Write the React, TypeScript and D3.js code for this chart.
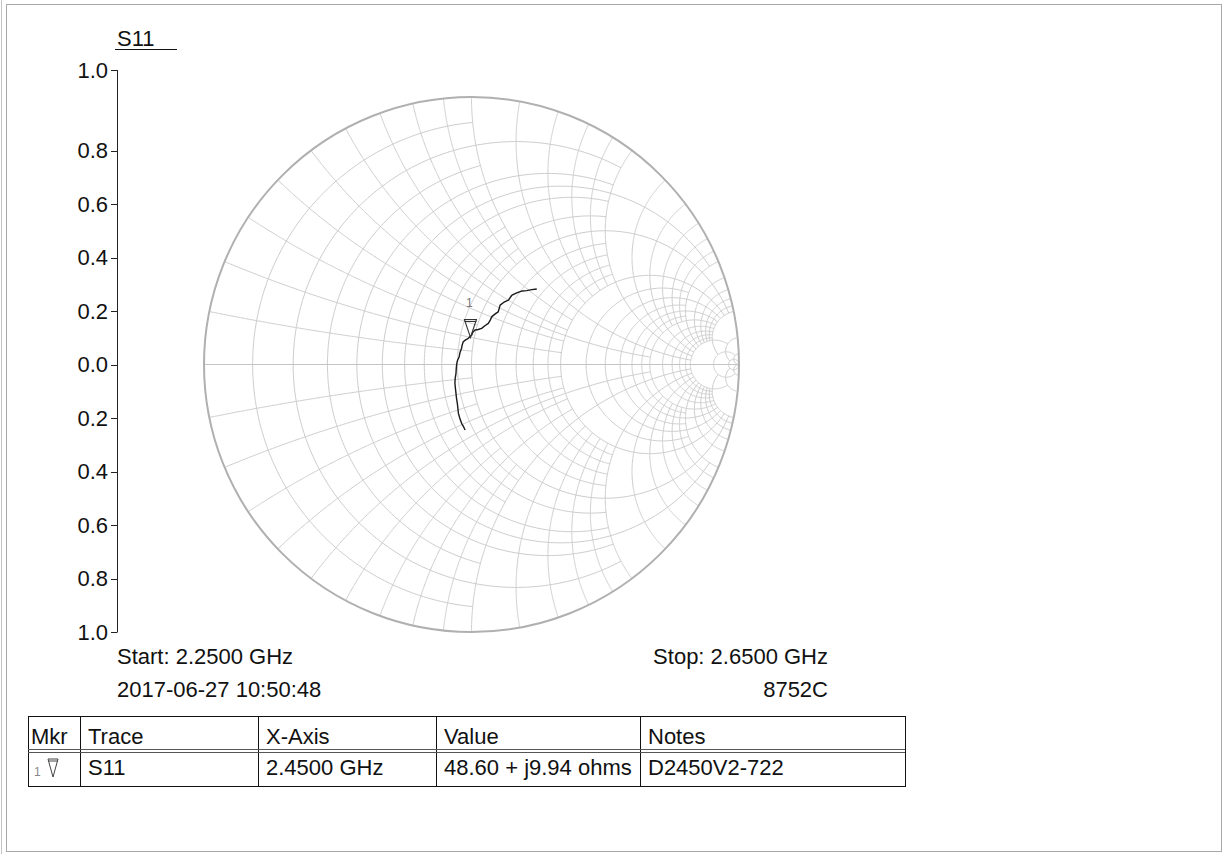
import React from 'react';
import * as d3 from 'd3';

// ---------- data ----------
const yTickValues = [1.0, 0.8, 0.6, 0.4, 0.2, 0.0, -0.2, -0.4, -0.6, -0.8, -1.0];
const yTickLabels = ['1.0', '0.8', '0.6', '0.4', '0.2', '0.0', '0.2', '0.4', '0.6', '0.8', '1.0'];

// constant-resistance circles and the |x| up to which each is drawn
const rGridValues = [0.1, 0.2, 0.3, 0.4, 0.5, 0.6, 0.7, 0.8, 0.9, 1.0, 1.2, 1.4, 1.6, 1.8, 2.0, 2.5, 3, 3.5, 4, 4.5, 5, 6, 7, 8, 9, 10, 20, 50];
const rGridLimits = [1, 2, 1, 2, 5, 2, 1, 2, 1, 10, 2, 2, 2, 2, 10, 5, 10, 5, 10, 5, 10, 10, 10, 10, 10, 20, 50, Infinity];
// constant-reactance arcs and the r up to which each is drawn
const xGridValues = [0.1, 0.2, 0.3, 0.4, 0.5, 0.6, 0.7, 0.8, 0.9, 1.0, 1.2, 1.4, 1.6, 1.8, 2.0, 2.5, 3, 3.5, 4, 4.5, 5, 6, 7, 8, 9, 10, 20, 50];
const xGridLimits = [1, 2, 1, 2, 5, 2, 1, 2, 1, 10, 2, 2, 2, 2, 10, 5, 10, 5, 10, 5, 10, 10, 10, 10, 10, 20, 50, Infinity];

const traceRe = [0.244, 0.225, 0.206, 0.190, 0.169, 0.150, 0.138, 0.120, 0.107, 0.100, 0.090, 0.076, 0.070, 0.063, 0.050, 0.038, 0.025, 0.013, 0.005, 0.001, -0.006, -0.012, -0.022, -0.031, -0.035, -0.037, -0.043, -0.046, -0.052, -0.055, -0.057, -0.058, -0.061, -0.062, -0.060, -0.058, -0.056, -0.053, -0.051, -0.049, -0.044, -0.037, -0.030, -0.024];
const traceIm = [0.282, 0.280, 0.276, 0.275, 0.268, 0.258, 0.241, 0.232, 0.222, 0.197, 0.190, 0.179, 0.166, 0.154, 0.145, 0.135, 0.131, 0.129, 0.121, 0.110, 0.104, 0.098, 0.092, 0.085, 0.072, 0.061, 0.045, 0.029, 0.016, 0.004, -0.015, -0.033, -0.052, -0.070, -0.090, -0.108, -0.127, -0.145, -0.163, -0.182, -0.200, -0.220, -0.232, -0.245];

const z0 = 50;
const markerLabel = '1';
const markerResistance = 48.60;
const markerReactance = 9.94;

const titleText = 'S11';
const startText = 'Start: 2.2500 GHz';
const stopText = 'Stop: 2.6500 GHz';
const dateText = '2017-06-27 10:50:48';
const modelText = '8752C';

const tableHeaders = ['Mkr', 'Trace', 'X-Axis', 'Value', 'Notes'];
const tableRow = ['S11', '2.4500 GHz', '48.60 + j9.94 ohms', 'D2450V2-722'];

// ---------- layout ----------
const W = 1228, H = 854;
const cx = 471.5, cy = 364.5, R = 267.5;
const axisX = 117, axisTop = 70;
const FONT = '"Liberation Sans", Arial, Helvetica, sans-serif';
const FS = 22;
const colX = [28, 80, 258, 436, 640, 905];
const tableTop = 716, headerBottom = 749, tableBottom = 786;

const sx = d3.scaleLinear().domain([-1, 1]).range([cx - R, cx + R]);
const sy = d3.scaleLinear().domain([-1, 1]).range([cy + R, cy - R]);

function gamma(r: number, x: number): [number, number] {
  const d = (r + 1) * (r + 1) + x * x;
  return [(r * r + x * x - 1) / d, (2 * x) / d];
}

const line = d3.line<[number, number]>().x(d => sx(d[0])).y(d => sy(d[1]));

function rCirclePath(r: number, lim: number): string {
  const phiMax = lim === Infinity ? Math.PI / 2 * 0.9999 : Math.atan(lim / (r + 1));
  const n = 240;
  const pts: [number, number][] = [];
  for (let i = 0; i <= n; i++) {
    const phi = -phiMax + (2 * phiMax * i) / n;
    pts.push(gamma(r, (r + 1) * Math.tan(phi)));
  }
  return line(pts) || '';
}

function xArcPath(x: number, lim: number): string {
  const uMax = lim === Infinity ? 0.9999 : lim / (lim + 1);
  const n = 200;
  const pts: [number, number][] = [];
  for (let i = 0; i <= n; i++) {
    const u = (uMax * i) / n;
    pts.push(gamma(u / (1 - u), x));
  }
  return line(pts) || '';
}

export default function App() {
  const gridPaths: string[] = [];
  rGridValues.forEach((r, i) => gridPaths.push(rCirclePath(r, rGridLimits[i])));
  xGridValues.forEach((x, i) => {
    gridPaths.push(xArcPath(x, xGridLimits[i]));
    gridPaths.push(xArcPath(-x, xGridLimits[i]));
  });

  const tracePts: [number, number][] = traceRe.map((v, i) => [v, traceIm[i]]);
  const mk = gamma(markerResistance / z0, markerReactance / z0);
  const mx = sx(mk[0]), my = sy(mk[1]);

  const tickY = (v: number, i: number) => (i === 0 ? axisTop : sy(v));

  return (
    <svg width={W} height={H} style={{ position: 'absolute', left: 0, top: 0, background: '#fff' }} fontFamily={FONT}>
      <rect x={0} y={0} width={W} height={H} fill="#fff" />
      {/* page frame */}
      <line x1={1.5} y1={0} x2={1.5} y2={H} stroke="#c4c4c4" strokeWidth={1} />
      <rect x={6.5} y={4.5} width={1215} height={847} fill="none" stroke="#a8a8a8" strokeWidth={1} />

      {/* title */}
      <text x={axisX} y={46} fontSize={FS} fill="#111">{titleText}</text>
      <line x1={115} x2={177} y1={49.5} y2={49.5} stroke="#111" strokeWidth={1} />

      {/* y axis */}
      <line x1={axisX + 0.5} x2={axisX + 0.5} y1={axisTop} y2={sy(-1)} stroke="#222" strokeWidth={1} />
      {yTickValues.map((v, i) => (
        <g key={i}>
          <line x1={axisX - 6} x2={axisX + 0.5} y1={Math.round(tickY(v, i)) + 0.5} y2={Math.round(tickY(v, i)) + 0.5} stroke="#222" strokeWidth={1} />
          <text x={axisX - 9} y={tickY(v, i)} fontSize={FS} textAnchor="end" dominantBaseline="central" fill="#111">{yTickLabels[i]}</text>
        </g>
      ))}

      {/* smith grid */}
      <g fill="none" stroke="#cdcdcd" strokeWidth={1}>
        {gridPaths.map((d, i) => <path key={i} d={d} />)}
      </g>
      <line x1={sx(-1)} x2={sx(1)} y1={sy(0)} y2={sy(0)} stroke="#c4c4c4" strokeWidth={1} />
      <circle cx={sx(0)} cy={sy(0)} r={sx(1) - sx(0)} fill="none" stroke="#b0b0b0" strokeWidth={2} />

      {/* trace */}
      <path d={line(tracePts) || ''} fill="none" stroke="#1a1a1a" strokeWidth={1.4} strokeLinejoin="round" />

      {/* marker */}
      <g stroke="#333" strokeWidth={1.1} fill="none">
        <path d={`M${mx},${my} L${mx - 6},${my - 18} L${mx + 6},${my - 18} Z`} />
        <line x1={mx - 6} x2={mx + 6} y1={my - 16} y2={my - 16} />
      </g>
      <text x={mx - 1} y={my - 34} fontSize={12} textAnchor="middle" dominantBaseline="central" fill="#777">{markerLabel}</text>

      {/* footer labels */}
      <text x={axisX} y={664} fontSize={FS} fill="#111">{startText}</text>
      <text x={axisX} y={697} fontSize={FS} fill="#111">{dateText}</text>
      <text x={828} y={664} fontSize={FS} textAnchor="end" fill="#111">{stopText}</text>
      <text x={828} y={697} fontSize={FS} textAnchor="end" fill="#111">{modelText}</text>

      {/* marker table */}
      <g stroke="#111" strokeWidth={1} fill="none">
        <rect x={colX[0] + 0.5} y={tableTop + 0.5} width={colX[5] - colX[0]} height={tableBottom - tableTop} />
        {colX.slice(1, 5).map((x, i) => (
          <line key={i} x1={x + 0.5} x2={x + 0.5} y1={tableTop} y2={tableBottom} />
        ))}
      </g>
      <line x1={colX[0]} x2={colX[5]} y1={headerBottom + 0.5} y2={headerBottom + 0.5} stroke="#555" strokeWidth={1} />
      <line x1={colX[0]} x2={colX[5]} y1={headerBottom + 3.5} y2={headerBottom + 3.5} stroke="#555" strokeWidth={1} />
      {tableHeaders.map((h, i) => (
        <text key={h} x={colX[i] + (i === 0 ? 3 : 8)} y={744} fontSize={FS} fill="#111">{h}</text>
      ))}
      <text x={colX[0] + 6} y={776} fontSize={12} fill="#888">{markerLabel}</text>
      <g stroke="#444" strokeWidth={1} fill="none">
        <path d={`M${colX[0] + 25},${777} L${colX[0] + 20},${759} L${colX[0] + 30},${759} Z`} />
        <line x1={colX[0] + 20} x2={colX[0] + 30} y1={761} y2={761} />
      </g>
      {tableRow.map((t, i) => (
        <text key={i} x={colX[i + 1] + 8} y={775} fontSize={FS} fill="#111">{t}</text>
      ))}
    </svg>
  );
}
